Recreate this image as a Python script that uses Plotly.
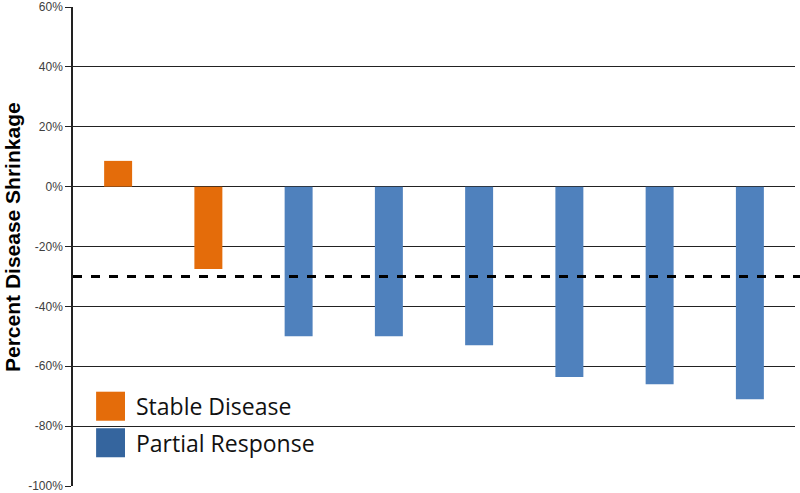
import plotly.graph_objects as go

patients = ["P1", "P2", "P3", "P4", "P5", "P6", "P7", "P8"]
shrinkage = [8.6, -27.5, -50, -50, -53, -63.6, -66, -71]
response = ["Stable Disease", "Stable Disease", "Partial Response", "Partial Response",
            "Partial Response", "Partial Response", "Partial Response", "Partial Response"]
bar_colors = {"Stable Disease": "#E46C0A", "Partial Response": "#4F81BD"}
legend_colors = {"Stable Disease": "#E46C0A", "Partial Response": "#35659E"}
threshold = -30
y_ticks = [60, 40, 20, 0, -20, -40, -60, -80, -100]

fig = go.Figure()
fig.add_trace(go.Bar(
    x=patients, y=shrinkage,
    marker=dict(color=[bar_colors[r] for r in response], line=dict(width=0)),
    width=0.31, showlegend=False,
))

fig.add_shape(type="line", xref="paper", yref="y", x0=0, x1=1.01, y0=threshold, y1=threshold,
              line=dict(color="black", width=3, dash="dash"))

# legend (drawn as shapes + text to match the big swatches)
for i, name in enumerate(["Stable Disease", "Partial Response"]):
    y0 = -68.5 - i * 12.2
    fig.add_shape(type="rect", xref="paper", yref="y",
                  x0=0.032, x1=0.072, y0=y0 - 9.7, y1=y0,
                  fillcolor=legend_colors[name], line=dict(width=0))
    fig.add_annotation(xref="paper", yref="y", x=0.084, y=y0 - 4.85, text=name,
                       showarrow=False, xanchor="left", yanchor="middle",
                       font=dict(family="Open Sans, Liberation Sans, sans-serif", size=23, color="#111"))

# y-axis title
fig.add_annotation(xref="paper", yref="paper", x=-0.083, y=0.52, text="<b>Percent Disease Shrinkage</b>",
                   textangle=-90, showarrow=False, xanchor="center", yanchor="middle",
                   font=dict(family="Liberation Sans, Arial, sans-serif", size=21, color="black"))

fig.update_layout(
    width=800, height=493,
    margin=dict(l=73, r=5, t=7, b=7, autoexpand=False),
    plot_bgcolor="white", paper_bgcolor="white",
    xaxis=dict(showticklabels=False, showgrid=False, zeroline=False, showline=False,
               range=[-0.5, 7.5], automargin=False),
    yaxis=dict(range=[-100, 60], tickvals=y_ticks, ticktext=[f"{v}%" for v in y_ticks],
               automargin=False, ticklabeloverflow="allow",
               showgrid=True, gridcolor="#222", gridwidth=1, zeroline=False,
               showline=True, linecolor="#222", linewidth=1.5,
               ticks="outside", ticklen=6, tickcolor="#222",
               tickfont=dict(family="Liberation Sans, Arial, sans-serif", size=12, color="#404040")),
)

fig.write_html("out.html", config={"displayModeBar": False},
               post_script="document.body.style.margin='0';")
